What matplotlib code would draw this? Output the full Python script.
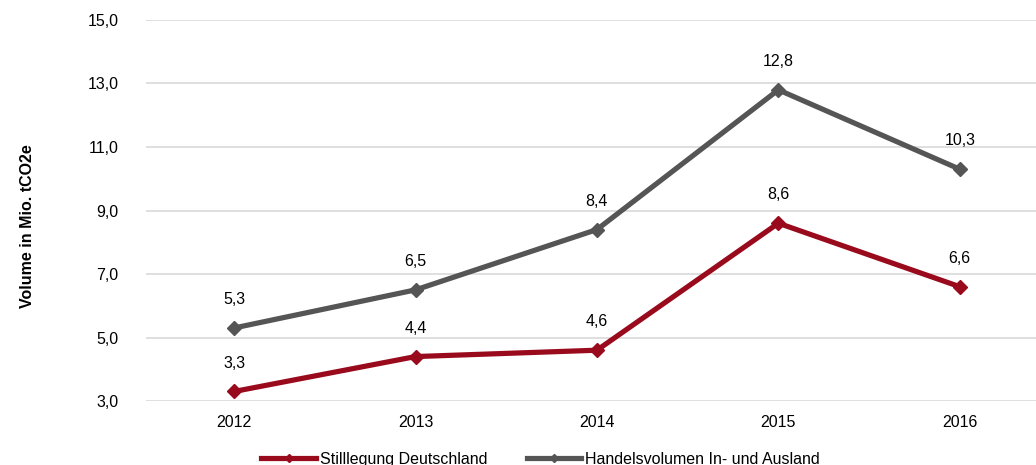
import matplotlib.pyplot as plt

plt.rcParams['font.family'] = ['Liberation Sans', 'DejaVu Sans']

years = [2012, 2013, 2014, 2015, 2016]
stilllegung = [3.3, 4.4, 4.6, 8.6, 6.6]
handel = [5.3, 6.5, 8.4, 12.8, 10.3]
yticks = [3, 5, 7, 9, 11, 13, 15]

red = '#990A1C'
grey = '#555555'
fs = 11.5

fig = plt.figure(figsize=(10.36, 4.65), dpi=100)
ax = fig.add_axes([0.141, 0.1376, 0.859, 0.8194])

ax.plot(years, stilllegung, color=red, lw=3.75, marker='D', ms=7.5,
        label='Stilllegung Deutschland')
ax.plot(years, handel, color=grey, lw=3.75, marker='D', ms=7.5,
        label='Handelsvolumen In- und Ausland')

for x, v in zip(years, stilllegung):
    ax.annotate(f'{v:.1f}'.replace('.', ','), (x, v), xytext=(0, 15),
                textcoords='offset points', ha='center', va='bottom', fontsize=fs)
for x, v in zip(years, handel):
    ax.annotate(f'{v:.1f}'.replace('.', ','), (x, v), xytext=(0, 15),
                textcoords='offset points', ha='center', va='bottom', fontsize=fs)

ax.set_ylim(3, 15)
ax.set_yticks(yticks)
ax.set_yticklabels([f'{t:.1f}'.replace('.', ',') for t in yticks], fontsize=fs)
ax.set_xlim(2011.515, 2016.42)
ax.set_xticks(years)
ax.set_xticklabels([str(y) for y in years], fontsize=fs)
ax.grid(axis='y', color='#D9D9D9', lw=1.2)
ax.set_axisbelow(True)
for s in ax.spines.values():
    s.set_visible(False)
ax.tick_params(axis='y', length=0, pad=20)
ax.tick_params(axis='x', length=0, pad=10)
ax.set_ylabel('Volume in Mio. tCO2e', fontsize=fs, fontweight='bold')
ax.yaxis.set_label_coords(-0.125, 0.46)

fig.legend(loc='center', bbox_to_anchor=(0.522, 0.012), ncol=2, frameon=False,
           fontsize=fs, handlelength=3.4, handletextpad=0.25, columnspacing=2.5,
           markerscale=0.6)

fig.savefig('out.png', dpi=100)
